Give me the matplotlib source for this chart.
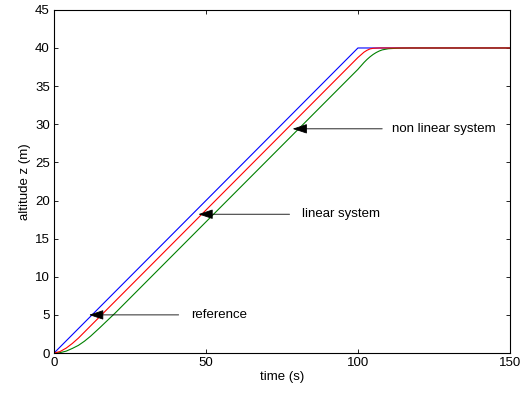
import matplotlib.pyplot as plt

plt.rcParams['font.family'] = ['Liberation Sans', 'DejaVu Sans']

# reference trajectory
t_ref = [0, 100, 150]
z_ref = [0, 40, 40]

# linear system response
t_lin = [0, 2, 4, 6, 8, 10, 15, 20, 100, 101, 102, 103, 104, 105, 107, 150]
z_lin = [0, 0.2, 0.65, 1.25, 1.95, 2.75, 4.75, 6.75, 38.75, 39.1, 39.45, 39.7, 39.88, 39.96, 40, 40]

# non linear system response
t_nl = [0, 2, 4, 6, 8, 10, 12, 15, 20, 25, 100, 101, 102, 103, 104, 105, 106, 107, 108, 110, 113, 117, 150]
z_nl = [0, 0.05, 0.25, 0.6, 1.0, 1.55, 2.2, 3.3, 5.2, 7.2, 37.2, 37.65, 38.1, 38.5, 38.85, 39.15, 39.4, 39.6, 39.75, 39.9, 39.97, 40, 40]

fig = plt.figure(figsize=(5.3, 3.94), dpi=100)
ax = fig.add_axes([0.102, 0.104, 0.860, 0.871])

ax.plot(t_ref, z_ref, color='#0000ff', lw=0.8)
ax.plot(t_nl, z_nl, color='#008000', lw=0.8)
ax.plot(t_lin, z_lin, color='#ff0000', lw=0.8)

ax.set_xlim(0, 150)
ax.set_ylim(0, 45)
ax.set_xticks([0, 50, 100, 150])
ax.set_yticks(range(0, 46, 5))
ax.tick_params(direction='in', top=True, right=True, labelsize=9.5, length=3, width=0.6, pad=3)
for s in ax.spines.values():
    s.set_linewidth(0.8)

ax.set_xlabel('time (s)', fontsize=9.5, labelpad=1)
ax.set_ylabel('altitude z (m)', fontsize=9.5, labelpad=3)

arrow = dict(arrowstyle='-|>,head_length=0.9,head_width=0.3', color='black', lw=0.6, shrinkA=0, shrinkB=0)
ax.annotate('', xy=(11.5, 5.0), xytext=(41, 5.0), arrowprops=arrow)
ax.text(45.2, 5.05, 'reference', fontsize=9.5, va='center')
ax.annotate('', xy=(47.5, 18.2), xytext=(77.5, 18.2), arrowprops=arrow)
ax.text(81.5, 18.2, 'linear system', fontsize=9.5, va='center')
ax.annotate('', xy=(78.5, 29.4), xytext=(108, 29.4), arrowprops=arrow)
ax.text(111.3, 29.35, 'non linear system', fontsize=9.5, va='center')

fig.savefig('out.png', dpi=100)
